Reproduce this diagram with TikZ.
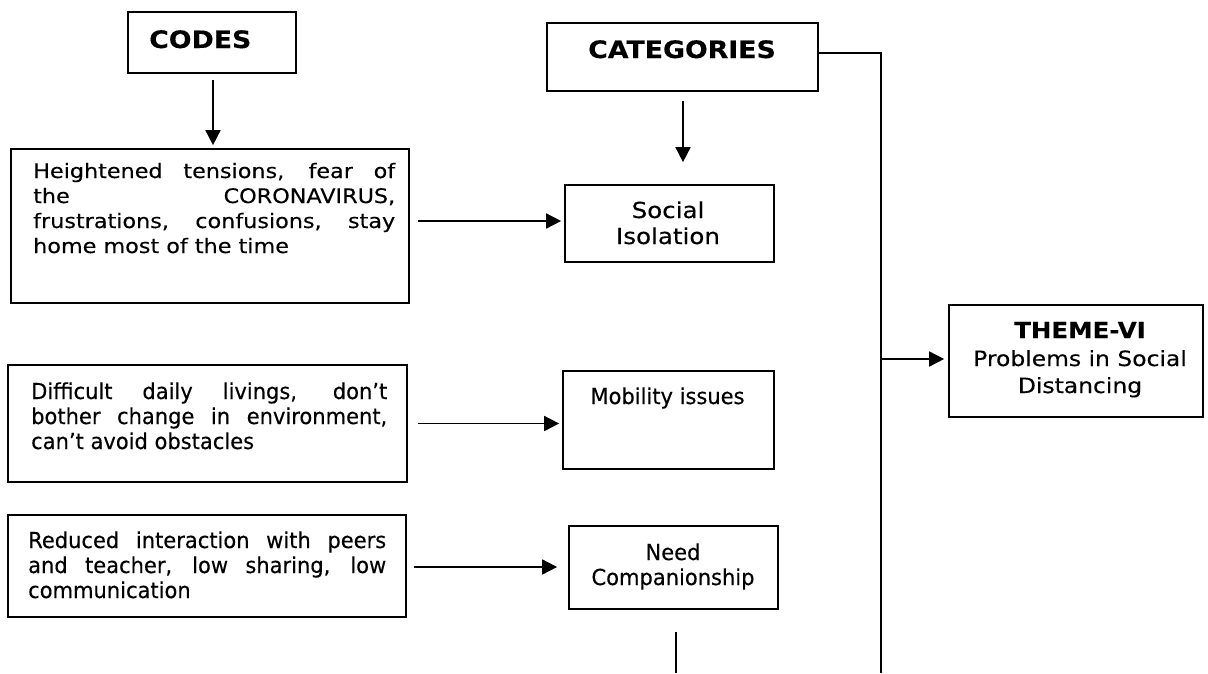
\documentclass[tikz,border=0pt]{standalone}
\usepackage{fontspec}
\setmainfont{DejaVu Sans}
\newfontfamily\verd[FakeStretch=1.115,FakeBold=0.3]{DejaVu Sans}
\newfontfamily\taho[FakeStretch=0.955,FakeBold=0.3]{DejaVu Sans}
\usetikzlibrary{arrows.meta,calc}
\begin{document}
\begin{tikzpicture}[x=1pt,y=-1pt,
  box/.style={draw, line width=1.7pt, rectangle, inner sep=0pt},
  ln/.style={line width=1.7pt},
  arr/.style={line width=1.7pt, -{Triangle[length=15pt 0 0,width=15pt 0 0]}},
  vt/.style={font=\verd\fontsize{20}{25}\selectfont, inner sep=0pt},
  vs/.style={font=\verd\fontsize{22}{26}\selectfont, inner sep=0pt},
  vb/.style={font=\verd\bfseries\fontsize{24}{28}\selectfont, inner sep=0pt},
  tt/.style={font=\taho\fontsize{22}{25}\selectfont, inner sep=0pt}]
\useasboundingbox (0,0) rectangle (1208,673);

% boxes
\node[box, minimum width=168pt, minimum height=61pt] (codes) at (212,42.5) {};
\node[box, minimum width=271pt, minimum height=68pt] (cat) at (682.5,57) {};
\node[box, minimum width=398pt, minimum height=154pt] (b1) at (210,226) {};
\node[box, minimum width=209pt, minimum height=77pt] (si) at (669.5,223.5) {};
\node[box, minimum width=399pt, minimum height=117pt] (b2) at (207.5,423.5) {};
\node[box, minimum width=211pt, minimum height=98pt] (mob) at (668.5,420) {};
\node[box, minimum width=398pt, minimum height=102pt] (b3) at (207,566) {};
\node[box, minimum width=209pt, minimum height=83pt] (need) at (673.5,567.5) {};
\node[box, minimum width=254pt, minimum height=112pt] (theme) at (1076,361) {};

% texts
\node[vb, anchor=base west] (codest) at (149,48) {CODES};
\node[vb, anchor=base] (catt) at (682,58) {CATEGORIES};

\node[vt, anchor=base west] (b1l1) at (33,178) {\makebox[362pt][s]{Heightened tensions, fear of}};
\node[vt, anchor=base west] (b1l2) at (33,203) {\makebox[362pt][s]{the CORONAVIRUS,}};
\node[vt, anchor=base west] (b1l3) at (33,228) {\makebox[362pt][s]{frustrations, confusions, stay}};
\node[vt, anchor=base west] (b1l4) at (33,253) {home most of the time};

\node[vs, anchor=base] (sil1) at (668,218) {Social};
\node[vs, anchor=base] (sil2) at (668,244) {Isolation};

\node[tt, anchor=base west] (b2l1) at (31,399) {\makebox[356pt][s]{Difficult daily livings, don’t}};
\node[tt, anchor=base west] (b2l2) at (31,424) {\makebox[356pt][s]{bother change in environment,}};
\node[tt, anchor=base west] (b2l3) at (31,449) {can’t avoid obstacles};

\node[tt, anchor=base] (mobt) at (667.5,404) {Mobility issues};

\node[tt, anchor=base west] (b3l1) at (28,548) {\makebox[358pt][s]{Reduced interaction with peers}};
\node[tt, anchor=base west] (b3l2) at (28,573) {\makebox[358pt][s]{and teacher, low sharing, low}};
\node[tt, anchor=base west] (b3l3) at (28,598) {communication};

\node[tt, anchor=base] (needl1) at (673,560) {Need};
\node[tt, anchor=base] (needl2) at (673,585) {Companionship};

\node[font=\verd\bfseries\fontsize{22}{26}\selectfont, inner sep=0pt, anchor=base] (thl1) at (1080,338) {THEME-VI};
\node[font=\verd\fontsize{21}{26}\selectfont, inner sep=0pt, anchor=base] (thl2) at (1080,366) {Problems in Social};
\node[font=\verd\fontsize{21}{26}\selectfont, inner sep=0pt, anchor=base] (thl3) at (1080,393) {Distancing};

% connectors
\coordinate (bot) at (0,673);
\coordinate (vbot) at (881,673);
\draw[arr] ($(codes.south)+(1,6)$) -- ($(codes.south |- b1.north)+(1,-3)$);
\draw[arr] ($(cat.south)+(0.5,9)$) -- ($(cat.south |- si.north)+(0.5,-22)$);
\draw[arr] ($(b1.east)+(8,-5)$) -- ($(si.west |- b1.east)+(-3,-5)$);
\draw[arr] ($(b2.east)+(10,0)$) -- ($(mob.west |- b2.east)+(-3,0)$);
\draw[arr] ($(b3.east)+(7,1)$) -- ($(need.west |- b3.east)+(-11,1)$);
\draw[ln] ($(cat.east)+(0,-4)$) -| (vbot);
\draw[arr] ($(vbot |- theme.west)+(0,-2)$) -- ($(theme.west)+(-4,-2)$);
\draw[ln] ($(need.south)+(2.5,22)$) -- ($(need.south |- bot)+(2.5,0)$);
\end{tikzpicture}
\end{document}
